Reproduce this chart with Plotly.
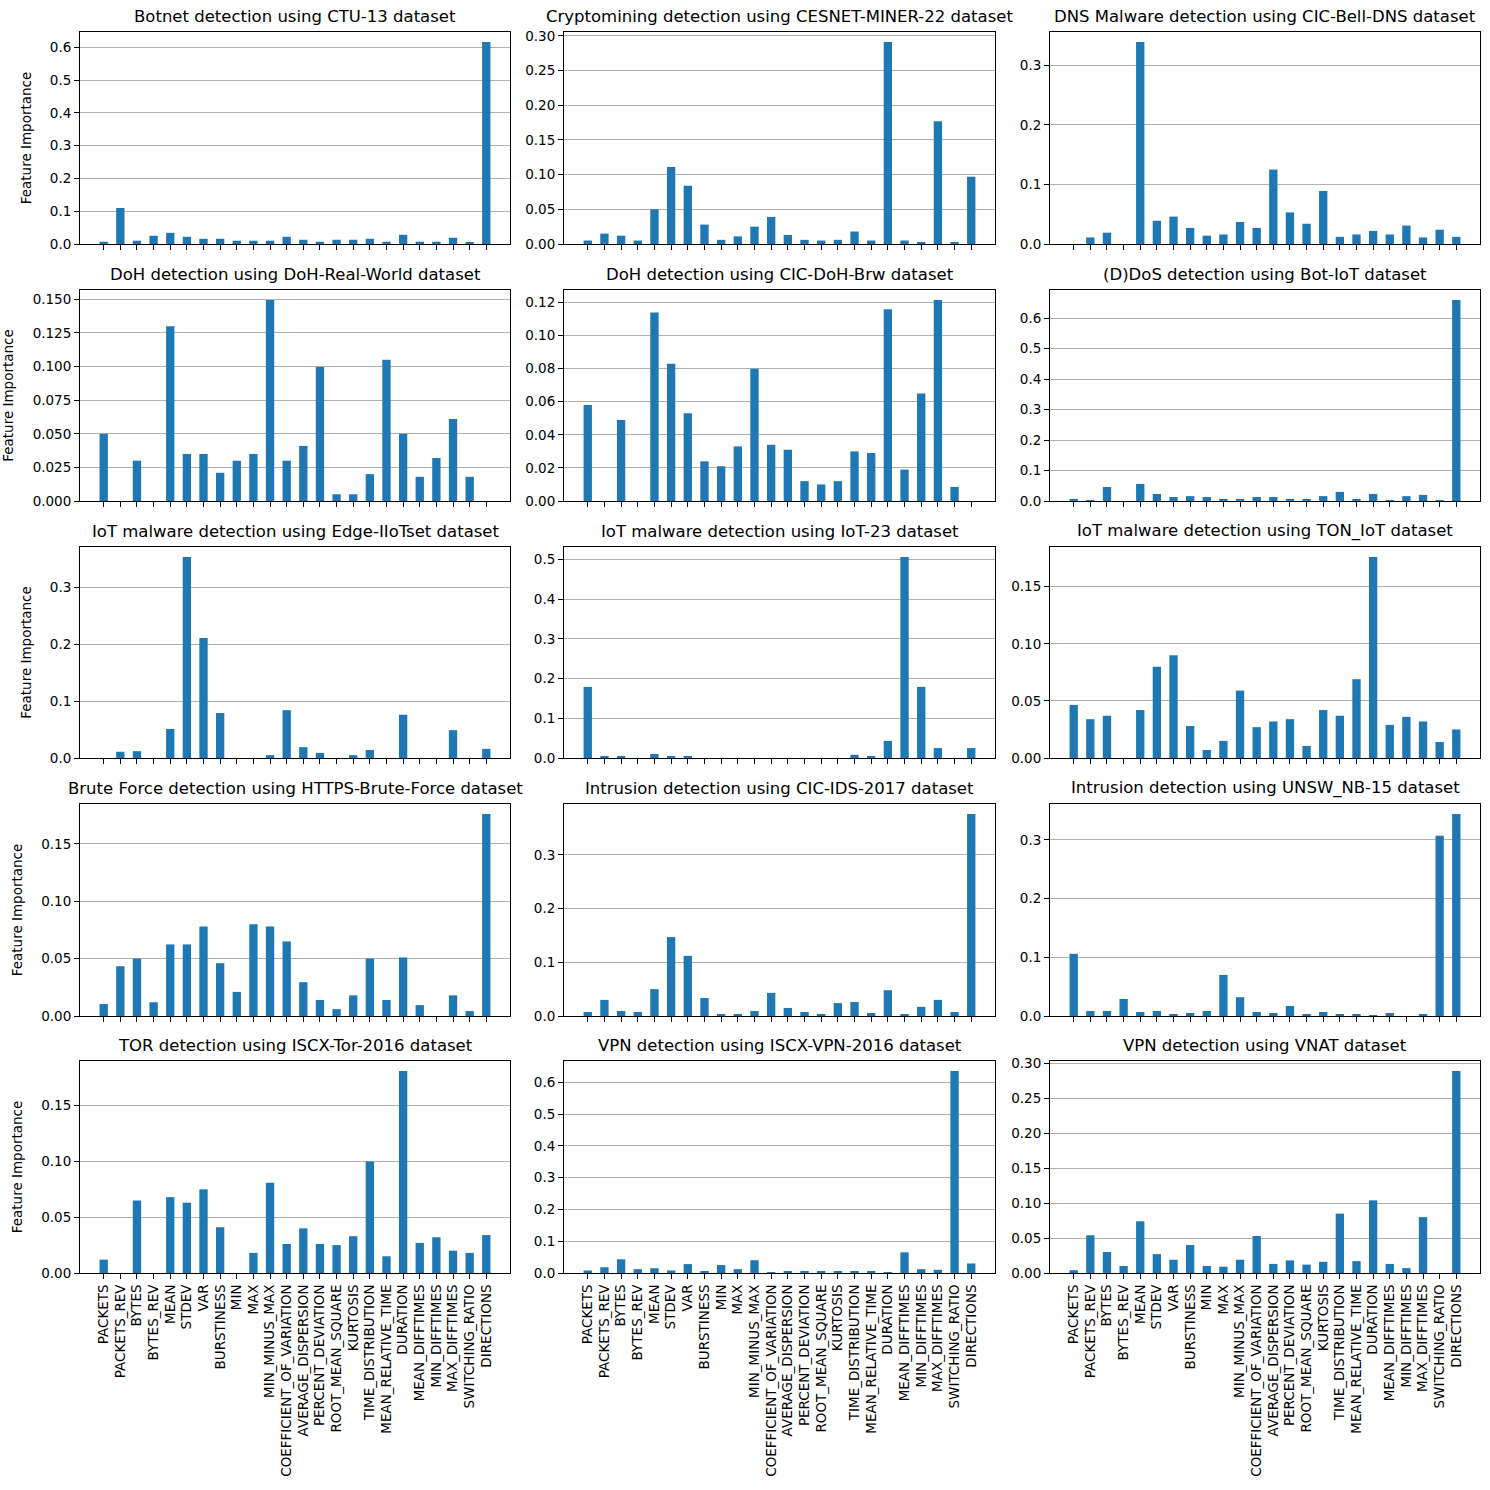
import plotly.graph_objects as go
from plotly.subplots import make_subplots

features = ["PACKETS", "PACKETS_REV", "BYTES", "BYTES_REV", "MEAN", "STDEV", "VAR",
            "BURSTINESS", "MIN", "MAX", "MIN_MINUS_MAX", "COEFFICIENT_OF_VARIATION",
            "AVERAGE_DISPERSION", "PERCENT_DEVIATION", "ROOT_MEAN_SQUARE", "KURTOSIS",
            "TIME_DISTRIBUTION", "MEAN_RELATIVE_TIME", "DURATION", "MEAN_DIFFTIMES",
            "MIN_DIFFTIMES", "MAX_DIFFTIMES", "SWITCHING_RATIO", "DIRECTIONS"]

titles = [
    "Botnet detection using CTU-13 dataset",
    "Cryptomining detection using CESNET-MINER-22 dataset",
    "DNS Malware detection using CIC-Bell-DNS dataset",
    "DoH detection using DoH-Real-World dataset",
    "DoH detection using CIC-DoH-Brw dataset",
    "(D)DoS detection using Bot-IoT dataset",
    "IoT malware detection using Edge-IIoTset dataset",
    "IoT malware detection using IoT-23 dataset",
    "IoT malware detection using TON_IoT dataset",
    "Brute Force detection using HTTPS-Brute-Force dataset",
    "Intrusion detection using CIC-IDS-2017 dataset",
    "Intrusion detection using UNSW_NB-15 dataset",
    "TOR detection using ISCX-Tor-2016 dataset",
    "VPN detection using ISCX-VPN-2016 dataset",
    "VPN detection using VNAT dataset",
]

ctu13 = [0.007, 0.110, 0.010, 0.025, 0.034, 0.022, 0.016, 0.016, 0.010, 0.010, 0.010, 0.022,
         0.013, 0.007, 0.013, 0.013, 0.016, 0.007, 0.028, 0.007, 0.007, 0.019, 0.004, 0.616]
cesnet_miner = [0.005, 0.015, 0.012, 0.005, 0.050, 0.111, 0.084, 0.028, 0.006, 0.011, 0.025, 0.039,
                0.013, 0.006, 0.005, 0.006, 0.018, 0.005, 0.291, 0.005, 0.002, 0.177, 0.002, 0.097]
cic_bell_dns = [0.0, 0.011, 0.019, 0.0, 0.339, 0.039, 0.046, 0.027, 0.014, 0.016, 0.037, 0.027,
                0.125, 0.053, 0.034, 0.089, 0.012, 0.016, 0.022, 0.016, 0.031, 0.011, 0.024, 0.012]
doh_real_world = [0.050, 0.0, 0.030, 0.0, 0.130, 0.035, 0.035, 0.021, 0.030, 0.035, 0.1495, 0.030,
                  0.041, 0.0997, 0.005, 0.005, 0.020, 0.105, 0.050, 0.018, 0.032, 0.061, 0.018, 0.0]
cic_doh_brw = [0.058, 0.0, 0.049, 0.0, 0.114, 0.083, 0.053, 0.024, 0.021, 0.033, 0.080, 0.034,
               0.031, 0.012, 0.010, 0.012, 0.030, 0.029, 0.116, 0.019, 0.065, 0.1215, 0.0085, 0.0]
bot_iot = [0.007, 0.003, 0.046, 0.0, 0.056, 0.023, 0.013, 0.016, 0.013, 0.007, 0.007, 0.013,
           0.013, 0.007, 0.007, 0.016, 0.030, 0.007, 0.023, 0.003, 0.016, 0.020, 0.003, 0.660]
edge_iiotset = [0.0, 0.011, 0.012, 0.0, 0.051, 0.353, 0.211, 0.079, 0.0, 0.0, 0.005, 0.084,
                0.019, 0.009, 0.0, 0.005, 0.014, 0.0, 0.076, 0.0, 0.0, 0.049, 0.0, 0.016]
iot23 = [0.179, 0.003, 0.003, 0.0, 0.010, 0.003, 0.003, 0.0, 0.0, 0.0, 0.0, 0.0,
         0.0, 0.0, 0.0, 0.0, 0.008, 0.005, 0.043, 0.506, 0.179, 0.025, 0.0, 0.025]
ton_iot = [0.0465, 0.034, 0.037, 0.0, 0.042, 0.080, 0.090, 0.028, 0.007, 0.015, 0.059, 0.027,
           0.032, 0.034, 0.0105, 0.042, 0.037, 0.069, 0.176, 0.029, 0.036, 0.032, 0.014, 0.025]
https_brute_force = [0.0104, 0.0434, 0.050, 0.012, 0.0624, 0.0624, 0.078, 0.046, 0.021, 0.080, 0.078, 0.065,
                     0.0295, 0.014, 0.006, 0.018, 0.050, 0.014, 0.051, 0.0095, 0.0, 0.018, 0.0043, 0.176]
cic_ids_2017 = [0.0075, 0.030, 0.0093, 0.0075, 0.050, 0.147, 0.112, 0.0335, 0.002, 0.0037, 0.0093, 0.043,
                0.015, 0.0075, 0.002, 0.024, 0.026, 0.0056, 0.048, 0.0037, 0.017, 0.030, 0.0075, 0.376]
unsw_nb15 = [0.106, 0.0085, 0.0085, 0.029, 0.0068, 0.0085, 0.0034, 0.0051, 0.0085, 0.070, 0.032, 0.0068,
             0.0051, 0.017, 0.0034, 0.0068, 0.0034, 0.0034, 0.0017, 0.0051, 0.0, 0.0034, 0.307, 0.344]
iscx_tor = [0.012, 0.0, 0.065, 0.0, 0.068, 0.063, 0.075, 0.041, 0.0, 0.018, 0.081, 0.026,
            0.040, 0.026, 0.025, 0.033, 0.100, 0.015, 0.181, 0.027, 0.032, 0.020, 0.018, 0.034]
iscx_vpn = [0.008, 0.018, 0.043, 0.012, 0.015, 0.008, 0.028, 0.005, 0.025, 0.012, 0.040, 0.001,
            0.005, 0.005, 0.005, 0.005, 0.005, 0.005, 0.003, 0.065, 0.012, 0.010, 0.635, 0.030]
vnat = [0.004, 0.054, 0.030, 0.010, 0.074, 0.027, 0.019, 0.040, 0.010, 0.009, 0.019, 0.053,
        0.013, 0.018, 0.012, 0.016, 0.085, 0.017, 0.104, 0.013, 0.007, 0.080, 0.0, 0.289]

series = [ctu13, cesnet_miner, cic_bell_dns, doh_real_world, cic_doh_brw, bot_iot,
          edge_iiotset, iot23, ton_iot, https_brute_force, cic_ids_2017, unsw_nb15,
          iscx_tor, iscx_vpn, vnat]

# y tick step and label format for each panel
tick_steps = [0.1, 0.05, 0.1, 0.025, 0.02, 0.1, 0.1, 0.1, 0.05, 0.05, 0.1, 0.1, 0.05, 0.1, 0.05]
tick_formats = [".1f", ".2f", ".1f", ".3f", ".2f", ".1f", ".1f", ".1f", ".2f", ".2f", ".1f", ".1f",
                ".2f", ".1f", ".2f"]

W = H = 1490
col_px = [(80, 510), (564, 995), (1050, 1480)]
row_px = [(32, 244), (290, 501), (547, 758), (804, 1016), (1061, 1273)]

fig = make_subplots(rows=5, cols=3)
font = "DejaVu Sans"

for i, vals in enumerate(series):
    r, c = i // 3 + 1, i % 3 + 1
    fig.add_trace(go.Bar(x=list(range(len(features))), y=vals, marker_color="#1f77b4",
                         marker_line_width=0, showlegend=False), row=r, col=c)
    x0, x1 = col_px[c - 1]
    y0, y1 = row_px[r - 1]
    fig.update_xaxes(domain=[x0 / W, x1 / W], range=[-1.425, 24.425],
                     tickvals=list(range(len(features))), ticktext=features,
                     showticklabels=(r == 5), tickangle=-90,
                     ticks="outside", ticklen=5, tickcolor="black",
                     showline=True, linecolor="black", linewidth=1, mirror=True,
                     showgrid=False, zeroline=False, automargin=False,
                     tickfont=dict(family=font, size=13.5, color="black"),
                     row=r, col=c)
    fig.update_yaxes(domain=[1 - y1 / H, 1 - y0 / H], range=[0, max(vals) * 1.05],
                     dtick=tick_steps[i], tick0=0, tickformat=tick_formats[i],
                     ticks="outside", ticklen=5, tickcolor="black",
                     showline=True, linecolor="black", linewidth=1, mirror=True,
                     showgrid=True, gridcolor="#b0b0b0", gridwidth=1, zeroline=False,
                     automargin=False,
                     tickfont=dict(family=font, size=13.5, color="black"),
                     title=dict(text="Feature Importance" if c == 1 else "",
                                font=dict(family=font, size=13.5, color="black")),
                     row=r, col=c)
    fig.add_annotation(text=titles[i], x=(x0 + x1) / 2 / W, y=1 - y0 / H,
                       xref="paper", yref="paper", xanchor="center", yanchor="bottom",
                       yshift=4, showarrow=False,
                       font=dict(family=font, size=16.5, color="black"))

fig.update_layout(width=W, height=H, margin=dict(l=0, r=0, t=0, b=0),
                  paper_bgcolor="white", plot_bgcolor="white", bargap=0.5,
                  font=dict(family=font, color="black"))

fig.write_html("out.html", config={"displayModeBar": False},
               post_script="document.body.style.margin='0';")
